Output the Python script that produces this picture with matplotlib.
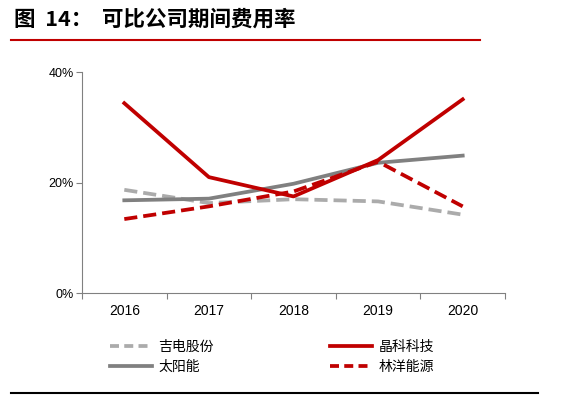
import numpy as np
import matplotlib.pyplot as plt
from matplotlib.lines import Line2D

plt.rcParams['font.family'] = ['Noto Sans CJK SC', 'DejaVu Sans']

years = ['2016', '2017', '2018', '2019', '2020']
jidian = [18.7, 16.3, 17.0, 16.6, 14.2]      # 吉电股份
jingke = [34.4, 21.0, 17.5, 24.1, 35.1]      # 晶科科技
taiyang = [16.8, 17.1, 19.8, 23.6, 24.9]     # 太阳能
linyang = [13.4, 15.7, 18.4, 23.8, 15.7]     # 林洋能源
yticks = [0, 20, 40]

red = '#C00000'
dgray = '#808080'
lgray = '#ABABAB'
lw = 2.7
dash = (3.5, 1.6)

fig = plt.figure(figsize=(5.86, 4.05), dpi=100)
ax = fig.add_axes([82/586, 1-293/405, (505-82)/586, (293-72.3)/405])

x = np.arange(len(years))
ax.plot(x, jidian, color=lgray, lw=lw, dashes=dash, label='吉电股份')
ax.plot(x, taiyang, color=dgray, lw=lw, label='太阳能')
ax.plot(x, linyang, color=red, lw=lw, dashes=dash, label='林洋能源')
ax.plot(x, jingke, color=red, lw=lw, label='晶科科技')

ax.set_xlim(-0.5, 4.5)
ax.set_ylim(0, 40)
ax.set_yticks(yticks)
ax.set_yticklabels([str(v) + '%' for v in yticks], fontsize=9, family=['Liberation Sans'])
ax.set_xticks(x)
ax.set_xticklabels(years, fontsize=10, family=['Liberation Sans'])
ax.set_xticks(np.arange(-0.5, 5, 1), minor=True)
ax.tick_params(axis='x', which='major', length=0, pad=8)
ax.tick_params(axis='x', which='minor', length=4, color=dgray, width=0.8)
ax.tick_params(axis='y', length=4, color=dgray, width=0.8, pad=2)
for s in ['top', 'right']:
    ax.spines[s].set_visible(False)
for s in ['left', 'bottom']:
    ax.spines[s].set_color(dgray)
    ax.spines[s].set_linewidth(0.8)

# legend, two columns
ldash = (2.4, 1.4)
handles = [Line2D([], [], color=lgray, lw=lw, dashes=ldash),
           Line2D([], [], color=dgray, lw=lw),
           Line2D([], [], color=red, lw=lw),
           Line2D([], [], color=red, lw=lw, dashes=ldash)]
labels = ['吉电股份', '太阳能', '晶科科技', '林洋能源']
fig.legend(handles, labels, loc='upper left', bbox_to_anchor=(110/586, 1-340/405),
           ncol=2, frameon=False, fontsize=10, handlelength=3.0, handletextpad=0.5,
           columnspacing=8.35, labelspacing=0.45, borderaxespad=0, borderpad=0)

# title and rules
fig.text(14/586, 1-19/405, '图  14：  可比公司期间费用率', fontsize=15.5, fontweight='bold',
         va='center', ha='left')
fig.add_artist(Line2D([11/586, 480/586], [1-40/405, 1-40/405], color=red, lw=1.5))
fig.add_artist(Line2D([11/586, 538/586], [1-393/405, 1-393/405], color='black', lw=1.5))

fig.savefig('out.png', dpi=100)
